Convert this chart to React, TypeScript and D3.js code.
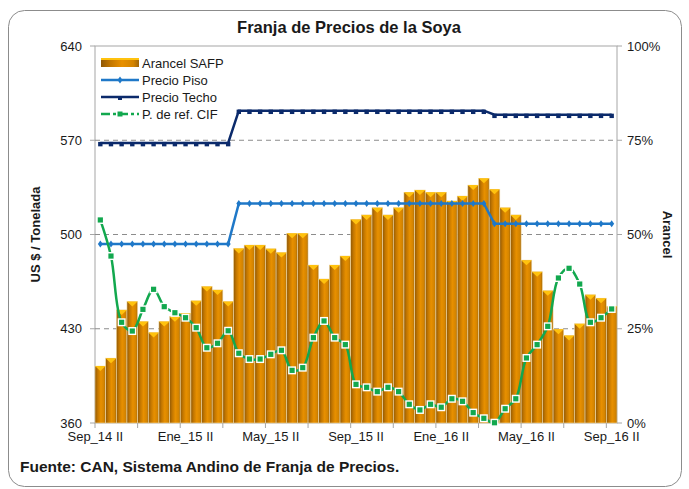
import React, { useEffect, useRef } from "react";
import * as d3 from "d3";

const months = ["Ene", "Feb", "Mar", "Abr", "May", "Jun", "Jul", "Ago", "Sep", "Oct", "Nov", "Dic"];
// quincenas from Sep_14 II to Sep_16 II
const periods: string[] = [];
for (let y = 14; y <= 16; y++) {
  for (let m = 0; m < 12; m++) {
    for (const h of ["I", "II"]) {
      const key = `${months[m]}_${y} ${h}`;
      if (y === 14 && (m < 8 || (m === 8 && h === "I"))) continue;
      if (y === 16 && (m > 8)) continue;
      periods.push(key);
    }
  }
}

const tickLabels = ["Sep_14 II", "Ene_15 II", "May_15 II", "Sep_15 II", "Ene_16 II", "May_16 II", "Sep_16 II"];

// Arancel SAFP (%)
const arancel = [
  15.1, 17.2, 30.0, 32.2, 26.9, 24.0, 26.9, 28.2, 29.1, 32.4, 36.2, 35.3, 32.2,
  46.3, 47.2, 47.2, 46.2, 45.2, 50.3, 50.3, 41.9, 38.2, 41.9, 44.3,
  54.0, 55.2, 57.1, 55.2, 57.1, 61.2, 61.8, 61.2, 61.2, 58.9, 60.2, 63.1,
  64.9, 62.0, 57.1, 55.2, 43.2, 40.1, 35.1, 24.9, 23.2, 26.3, 34.0, 33.1, 31.0,
];

// Precio Piso (US$/t)
const piso = [
  493, 493, 493, 493, 493, 493, 493, 493, 493, 493, 493, 493, 493,
  523, 523, 523, 523, 523, 523, 523, 523, 523, 523, 523,
  523, 523, 523, 523, 523, 523, 523, 523, 523, 523, 523, 523, 523,
  508, 508, 508, 508, 508, 508, 508, 508, 508, 508, 508, 508,
];

// Precio Techo (US$/t)
const techo = [
  568, 568, 568, 568, 568, 568, 568, 568, 568, 568, 568, 568, 568,
  592, 592, 592, 592, 592, 592, 592, 592, 592, 592, 592,
  592, 592, 592, 592, 592, 592, 592, 592, 592, 592, 592, 592, 592,
  589, 589, 589, 589, 589, 589, 589, 589, 589, 589, 589, 589,
];

// P. de ref. CIF (US$/t)
const cif = [
  510.8, 484.0, 434.8, 428.3, 444.4, 459.3, 446.4, 441.9, 438.2, 430.8, 415.9, 419.2, 428.5,
  411.8, 407.5, 407.5, 411.0, 414.0, 399.1, 401.1, 423.4, 435.8, 423.4, 418.2,
  388.7, 386.5, 383.3, 386.5, 383.3, 373.9, 369.7, 373.9, 371.7, 378.0, 376.1, 367.7,
  363.5, 360.2, 370.6, 378.0, 408.3, 418.2, 431.8, 467.7, 474.9, 463.2, 434.8, 438.2, 444.7,
];

const leftTicks = [360, 430, 500, 570, 640];
const rightTicks = [0, 25, 50, 75, 100];

export default function App() {
  const ref = useRef<SVGSVGElement>(null);

  useEffect(() => {
    if (!ref.current) return;
    const W = 689;
    const H = 489;
    const m = { left: 95, right: 617, top: 46, bottom: 423 };
    const svg = d3.select(ref.current);
    svg.selectAll("*").remove();
    svg.attr("width", W).attr("height", H);

    const font = "'Liberation Sans', Arial, sans-serif";
    const narrow = "'Liberation Sans Narrow', 'Arial Narrow', 'Liberation Sans', Arial, sans-serif";

    const x = d3.scaleBand<string>().domain(periods).range([m.left, m.right]).padding(0);
    const yL = d3.scaleLinear().domain([360, 640]).range([m.bottom, m.top]);
    const yR = d3.scaleLinear().domain([0, 100]).range([m.bottom, m.top]);

    // outer frame
    svg.append("rect").attr("x", 8.5).attr("y", 10.5).attr("width", 673).attr("height", 476)
      .attr("rx", 16).attr("fill", "#fff").attr("stroke", "#8c8c8c").attr("stroke-width", 1);

    const defs = svg.append("defs");
    const grad = defs.append("linearGradient").attr("id", "barGrad").attr("x1", "0").attr("x2", "1").attr("y1", "0").attr("y2", "0");
    grad.append("stop").attr("offset", "0%").attr("stop-color", "#8f5806");
    grad.append("stop").attr("offset", "25%").attr("stop-color", "#c27600");
    grad.append("stop").attr("offset", "55%").attr("stop-color", "#e89000");
    grad.append("stop").attr("offset", "85%").attr("stop-color", "#d48400");
    grad.append("stop").attr("offset", "100%").attr("stop-color", "#a0660a");

    // title
    svg.append("text").attr("x", 349).attr("y", 33).attr("text-anchor", "middle")
      .attr("font-family", narrow).attr("font-weight", "bold").attr("font-size", 16.5).attr("fill", "#1a1a1a")
      .text("Franja de Precios de la Soya");

    // plot border
    svg.append("rect").attr("x", m.left).attr("y", m.top).attr("width", m.right - m.left).attr("height", m.bottom - m.top)
      .attr("fill", "none").attr("stroke", "#a6a6a6").attr("stroke-width", 1);

    // grid
    svg.append("g").selectAll("line").data([430, 500, 570]).enter().append("line")
      .attr("x1", m.left).attr("x2", m.right).attr("y1", (d) => yL(d)).attr("y2", (d) => yL(d))
      .attr("stroke", "#8c8c8c").attr("stroke-dasharray", "5,4").attr("stroke-width", 1);

    // bars
    const bw = x.bandwidth();
    const bars = svg.append("g");
    bars.selectAll("rect").data(arancel).enter().append("rect")
      .attr("x", (_, i) => x(periods[i])!)
      .attr("y", (d) => yR(d))
      .attr("width", bw)
      .attr("height", (d) => m.bottom - yR(d))
      .attr("fill", "url(#barGrad)")
      .attr("stroke", "#f3dca8").attr("stroke-width", 0.6);
    bars.selectAll("path").data(arancel).enter().append("path")
      .attr("d", (d, i) => {
        const x0 = x(periods[i])!;
        const t = yR(d);
        return `M${x0},${t}L${x0 + bw},${t}L${x0 + bw / 2},${t + 5}Z`;
      })
      .attr("fill", "#ffc20e");

    const cx = (i: number) => x(periods[i])! + bw / 2;

    // Precio Techo
    const line = d3.line<number>().x((_, i) => cx(i)).y((d) => yL(d));
    svg.append("path").datum(techo).attr("d", line).attr("fill", "none").attr("stroke", "#0b2a6b").attr("stroke-width", 2.5);
    svg.append("g").selectAll("rect").data(techo).enter().append("rect")
      .attr("x", (_, i) => cx(i) - 2.2).attr("y", (d) => yL(d) - 1).attr("width", 4.4).attr("height", 4.4)
      .attr("fill", "#0b2a6b");

    // Precio Piso
    svg.append("path").datum(piso).attr("d", line).attr("fill", "none").attr("stroke", "#1f78c8").attr("stroke-width", 2.5);
    svg.append("g").selectAll("path").data(piso).enter().append("path")
      .attr("d", (d, i) => {
        const px = cx(i), py = yL(d);
        return `M${px},${py - 3.5}L${px + 2.5},${py}L${px},${py + 3.5}L${px - 2.5},${py}Z`;
      })
      .attr("fill", "#1f78c8");

    // P. de ref. CIF
    const smooth = d3.line<number>().x((_, i) => cx(i)).y((d) => yL(d)).curve(d3.curveCatmullRom.alpha(0.5));
    svg.append("path").datum(cif).attr("d", smooth).attr("fill", "none").attr("stroke", "#12a84e").attr("stroke-width", 2.5);
    svg.append("g").selectAll("rect").data(cif).enter().append("rect")
      .attr("x", (_, i) => cx(i) - 3.3).attr("y", (d) => yL(d) - 3.3).attr("width", 6.6).attr("height", 6.6)
      .attr("fill", "#12a84e").attr("stroke", "#ffffff").attr("stroke-width", 1.4);

    // left axis
    const la = svg.append("g").attr("font-family", font).attr("font-size", 13).attr("fill", "#1a1a1a");
    leftTicks.forEach((t) => {
      la.append("line").attr("x1", m.left - 5).attr("x2", m.left).attr("y1", yL(t)).attr("y2", yL(t)).attr("stroke", "#a6a6a6");
      la.append("text").attr("x", m.left - 13).attr("y", yL(t) + 4.5).attr("text-anchor", "end").text(t);
    });
    // right axis
    const ra = svg.append("g").attr("font-family", font).attr("font-size", 13).attr("fill", "#1a1a1a");
    rightTicks.forEach((t) => {
      ra.append("line").attr("x1", m.right).attr("x2", m.right + 5).attr("y1", yR(t)).attr("y2", yR(t)).attr("stroke", "#a6a6a6");
      ra.append("text").attr("x", m.right + 10).attr("y", yR(t) + 4.5).attr("text-anchor", "start").text(`${t}%`);
    });

    // bottom axis ticks and labels
    const ba = svg.append("g").attr("font-family", font).attr("font-size", 13).attr("fill", "#1a1a1a");
    periods.forEach((p, i) => {
      if (i % 4 === 0) {
        const xx = x(p)!;
        ba.append("line").attr("x1", xx).attr("x2", xx).attr("y1", m.bottom).attr("y2", m.bottom + 5).attr("stroke", "#a6a6a6");
      }
      if (tickLabels.includes(p)) {
        ba.append("text").attr("x", cx(i) - (i === 0 ? 5 : 0)).attr("y", m.bottom + 18).attr("text-anchor", "middle").text(p);
      }
    });

    // axis titles
    svg.append("text").attr("transform", `translate(40,${(m.top + m.bottom) / 2}) rotate(-90)`)
      .attr("text-anchor", "middle").attr("font-family", font).attr("font-weight", "bold").attr("font-size", 13).attr("fill", "#1a1a1a")
      .text("US $ / Tonelada");
    svg.append("text").attr("transform", `translate(663,${(m.top + m.bottom) / 2}) rotate(90)`)
      .attr("text-anchor", "middle").attr("font-family", font).attr("font-weight", "bold").attr("font-size", 13).attr("fill", "#1a1a1a")
      .text("Arancel");

    // legend
    const lg = svg.append("g").attr("font-family", font).attr("font-size", 13).attr("fill", "#1a1a1a");
    const lx = 101, lw = 38;
    const rows = [
      { name: "Arancel SAFP", y: 63 },
      { name: "Precio Piso", y: 80 },
      { name: "Precio Techo", y: 97 },
      { name: "P. de ref. CIF", y: 114 },
    ];
    lg.append("rect").attr("x", lx).attr("y", rows[0].y - 5).attr("width", lw).attr("height", 9).attr("fill", "url(#barGrad)");
    lg.append("rect").attr("x", lx).attr("y", rows[0].y - 5).attr("width", lw).attr("height", 2).attr("fill", "#ffc20e");
    lg.append("line").attr("x1", lx).attr("x2", lx + lw).attr("y1", rows[1].y).attr("y2", rows[1].y).attr("stroke", "#1f78c8").attr("stroke-width", 2.5);
    lg.append("path").attr("d", `M${lx + lw / 2},${rows[1].y - 3.5}l2.5,3.5l-2.5,3.5l-2.5,-3.5Z`).attr("fill", "#1f78c8");
    lg.append("line").attr("x1", lx).attr("x2", lx + lw).attr("y1", rows[2].y).attr("y2", rows[2].y).attr("stroke", "#0b2a6b").attr("stroke-width", 2.5);
    lg.append("rect").attr("x", lx + lw / 2 - 2).attr("y", rows[2].y - 1).attr("width", 4).attr("height", 4).attr("fill", "#0b2a6b");
    lg.append("line").attr("x1", lx).attr("x2", lx + lw).attr("y1", rows[3].y).attr("y2", rows[3].y).attr("stroke", "#12a84e").attr("stroke-width", 2.5).attr("stroke-dasharray", "9,3,3,3");
    lg.append("rect").attr("x", lx + lw / 2 - 2.5).attr("y", rows[3].y - 2.5).attr("width", 5).attr("height", 5).attr("fill", "#12a84e");
    rows.forEach((r) => {
      lg.append("text").attr("x", lx + lw + 3).attr("y", r.y + 5).text(r.name);
    });

    // source
    svg.append("text").attr("x", 20).attr("y", 472).attr("font-family", narrow).attr("font-weight", "bold").attr("font-size", 15.5).attr("fill", "#1a1a1a")
      .text("Fuente: CAN, Sistema Andino de Franja de Precios.");
  }, []);

  return <svg ref={ref} style={{ position: "absolute", left: 0, top: 0, background: "#fff" }} />;
}
